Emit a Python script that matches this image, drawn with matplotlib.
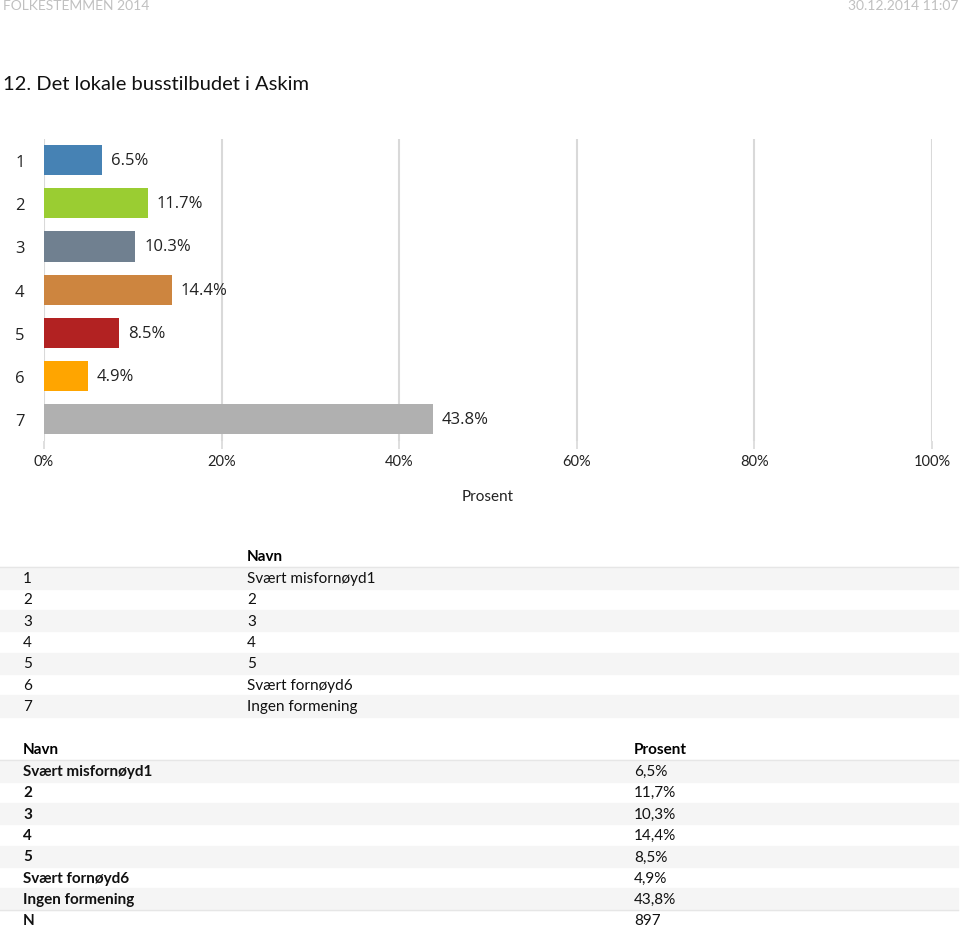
import matplotlib
matplotlib.use("Agg")
import matplotlib.pyplot as plt
from matplotlib.patches import Rectangle

# data
categories = ["1", "2", "3", "4", "5", "6", "7"]
values = [6.5, 11.7, 10.3, 14.4, 8.5, 4.9, 43.8]
colors = ["#4682b4", "#9acd32", "#708090", "#cd853f", "#b22222", "#ffa500", "#b0b0b0"]
names = ["Svært misfornøyd1", "2", "3", "4", "5", "Svært fornøyd6", "Ingen formening"]
value_texts = ["6,5%", "11,7%", "10,3%", "14,4%", "8,5%", "4,9%", "43,8%"]
n_total = "897"
xticks = [0, 20, 40, 60, 80, 100]

W, H = 960, 929
fig = plt.figure(figsize=(W / 100, H / 100), dpi=100)

# overlay axes in pixel coordinates for header text and tables
bg = fig.add_axes([0, 0, 1, 1])
bg.set_xlim(0, W)
bg.set_ylim(H, 0)
bg.axis("off")

grey_txt = "#c0c0c0"
bg.text(3, 6, "FOLKESTEMMEN 2014", family="Lato", fontsize=10, color=grey_txt, va="center")
bg.text(958, 6, "30.12.2014 11:07", family="Lato", fontsize=10, color=grey_txt, va="center", ha="right")
bg.text(3, 84, "12. Det lokale busstilbudet i Askim", family="Lato", fontsize=14.5,
        color="#111111", va="center")

# bar chart
ax = fig.add_axes([44 / W, 1 - 441.6 / H, 888 / W, 302 / H])
ypos = list(range(len(categories)))
ax.barh(ypos, values, height=0.7, color=colors, zorder=3)
for y, v in zip(ypos, values):
    ax.text(v + 1.0, y, f"{v:.1f}%", va="center", ha="left", family="Open Sans",
            fontsize=12, color="#222222")
ax.set_xlim(0, 100)
ax.set_ylim(len(categories) - 0.5, -0.5)
ax.set_yticks(ypos)
ax.set_yticklabels(categories, family="Open Sans", fontsize=12, color="#222222")
ax.set_xticks(xticks)
ax.set_xticklabels([f"{t}%" for t in xticks], family="Lato", fontsize=10.5, color="#222222")
ax.tick_params(axis="y", length=0, pad=14)
ax.tick_params(axis="x", length=6, color="#d9d9d9", width=1.2, pad=4)
ax.grid(axis="x", color="#d9d9d9", linewidth=1.5, zorder=0)
for s in ax.spines.values():
    s.set_visible(False)
ax.set_xlabel("Prosent", family="Lato", fontsize=11, color="#222222", labelpad=15)

# table 1
line_c = "#e6e6e6"
shade_c = "#f5f5f5"
rh = 21.35
bg.text(247, 557, "Navn", family="Lato", fontsize=11, fontweight="bold", va="center")
bg.plot([0, 958], [567.5, 567.5], color=line_c, lw=1)
y0 = 579
for i, (c, nm) in enumerate(zip(categories, names)):
    yc = y0 + i * rh
    if i % 2 == 0:
        bg.add_patch(Rectangle((0, yc - rh / 2), 958, rh, color=shade_c, zorder=0))
    bg.text(23, yc, c, family="Lato", fontsize=11, va="center", color="#111111")
    bg.text(247, yc, nm, family="Lato", fontsize=11, va="center", color="#111111")

# table 2
bg.text(23, 750, "Navn", family="Lato", fontsize=11, fontweight="bold", va="center")
bg.text(634, 750, "Prosent", family="Lato", fontsize=11, fontweight="bold", va="center")
bg.plot([0, 958], [760.5, 760.5], color=line_c, lw=1)
y0 = 772
for i, (nm, vt) in enumerate(zip(names, value_texts)):
    yc = y0 + i * rh
    if i % 2 == 0:
        bg.add_patch(Rectangle((0, yc - rh / 2), 958, rh, color=shade_c, zorder=0))
    bg.text(23, yc, nm, family="Lato", fontsize=11, fontweight="bold", va="center", color="#111111")
    bg.text(634, yc, vt, family="Lato", fontsize=11, va="center", color="#111111")
yN = y0 + len(names) * rh
bg.plot([0, 958], [yN - rh / 2, yN - rh / 2], color=line_c, lw=1)
bg.text(23, yN, "N", family="Lato", fontsize=11, fontweight="bold", va="center", color="#111111")
bg.text(634, yN, n_total, family="Lato", fontsize=11, va="center", color="#111111")

fig.savefig("out.png", dpi=100)
